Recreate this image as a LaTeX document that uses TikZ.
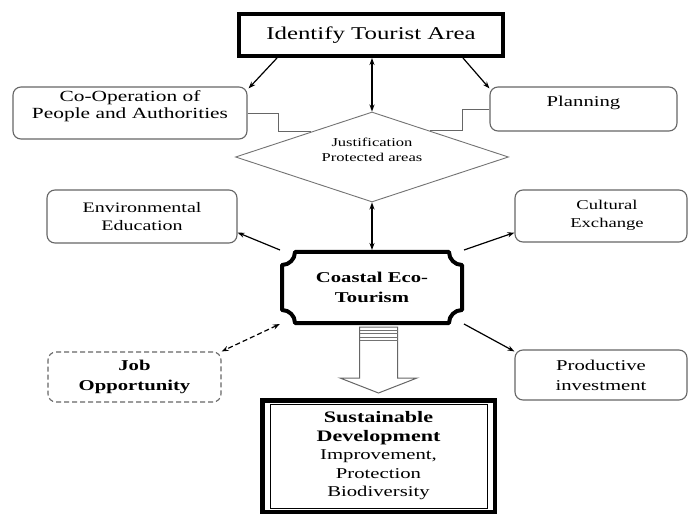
\documentclass[tikz,border=0pt]{standalone}
\usepackage{fontspec}
\setmainfont{Liberation Serif}[FakeStretch=1.38]
\usetikzlibrary{shapes.geometric,arrows.meta,calc}
\newcommand\setfs[2]{\fontsize{#1}{#2}\selectfont}
\begin{document}
\begin{tikzpicture}[x=1pt,y=-1pt,
  rbox/.style={draw=black!60, line width=1.1pt, rounded corners=8pt, inner sep=2pt, align=center, font=\setfs{15}{17}},
  txt/.style={align=center, inner sep=0pt},
  arr/.style={line width=1.2pt, -{Stealth[length=7pt,width=5pt]}},
  arrb/.style={line width=1.2pt, {Stealth[length=7pt,width=5pt]}-{Stealth[length=7pt,width=5pt]}},
  elbow/.style={draw=black!60, line width=0.9pt},
  grayline/.style={draw=black!55, line width=0.9pt}
]
\useasboundingbox (0,0) rectangle (689,516);
\fill[white] (0,0) rectangle (689,516);

% top box
\node[draw, line width=4pt, minimum width=264, minimum height=42, inner sep=0pt, font=\setfs{18}{20}] (top) at (371,35) {Identify Tourist Area};
\draw[line width=3pt] ($(top.north west)+(1.5,0)$) -- ($(top.south west)+(1.5,0)$);
\draw[line width=1.5pt] ($(top.south west)+(0,-0.75)$) -- ($(top.south east)+(0,-0.75)$);

% side boxes
\node[rbox, minimum width=234, minimum height=52] (coop) at (130,113) {};
\node[txt, font=\setfs{15.5}{17.5}] (coopt) at (130,106) {Co-Operation of\\People and Authorities};
\node[rbox, minimum width=187, minimum height=44] (plan) at (583.5,109) {};
\node[txt, font=\setfs{15}{17}] (plant) at (583.5,103) {Planning};

% diamond
\node[diamond, grayline, aspect=3, minimum width=273, minimum height=90, inner sep=0pt] (dia) at (372,157) {};
\node[txt, font=\setfs{12}{15}] (diat) at (372,150) {Justification\\Protected areas};

\node[rbox, minimum width=190, minimum height=53, font=\setfs{14.5}{18}] (env) at (142,216.5) {Environmental\\Education};
\node[rbox, minimum width=172, minimum height=52] (cult) at (601,216) {};
\node[txt, font=\setfs{13.5}{18}] (cultt) at (607,215) {Cultural\\Exchange};

% coastal eco-tourism plaque
\node[minimum width=180, minimum height=71, inner sep=0pt, outer sep=2pt, align=center, font=\bfseries\setfs{15}{20}] (coastal) at (372,287.5) {Coastal Eco-\\Tourism};
\draw[line width=4pt, line join=round]
 (295,252) -- (449,252)
 .. controls (449,259.2) and (454.8,265) .. (462,265)
 -- (462,310)
 .. controls (454.8,310) and (449,315.8) .. (449,323)
 -- (295,323)
 .. controls (295,315.8) and (289.2,310) .. (282,310)
 -- (282,265)
 .. controls (289.2,265) and (295,259.2) .. (295,252) -- cycle;

\node[rbox, dashed, dash pattern=on 5pt off 3pt, minimum width=173, minimum height=50, font=\bfseries\setfs{15}{20}] (job) at (134.5,377) {Job\\Opportunity};
\node[rbox, minimum width=172, minimum height=50, font=\setfs{15}{20}] (prod) at (601,375) {Productive\\investment};

% sustainable development
\node[draw, line width=4.5pt, minimum width=232.5, minimum height=111.5, inner sep=0pt, align=center, font=\setfs{15}{18.5}] (sust) at (378.5,456)
  {\textbf{\setfs{16}{18.5}Sustainable}\\\textbf{\setfs{16}{18.5}Development}\\Improvement,\\Protection\\Biodiversity};
\draw[line width=0.8pt] ($(sust.north west)+(10,6)$) rectangle ($(sust.south east)+(-10,-6)$);

% connectors from top
\draw[arr] ($(top.south west)+(40,0)$) -- ($(coop.north east)+(1,2)$);
\draw[arrb] (top.south -| dia.north) -- (dia.north);
\draw[arr] ($(top.south east)+(-42,0)$) -- ($(plan.north west)+(0,2)$);

% elbows into diamond
\draw[elbow] (coop.east) -- ++(31,0) |- ($(dia.west)!0.555!(dia.north)$);
\draw[elbow] (plan.west) -- ++(-27,0) |- ($(dia.east)!0.578!(dia.north)$);

% connectors from coastal
\draw[arrb] (coastal.north) -- (dia.south);
\draw[arr] (coastal.north west) -- ($(env.south east)+(0,-11)$);
\draw[arr] (coastal.north east) -- ($(cult.south west)+(0,-10)$);
\draw[arrb, dashed, dash pattern=on 5pt off 3pt] ($(coastal.south west)+(0,-1)$) -- (job.north east);
\draw[arr] ($(coastal.south east)+(0,-1)$) -- ($(prod.north west)+(0,2)$);

% block arrow
\coordinate (btip) at ($(sust.north)+(0,-5)$);
\draw[black!60, line width=1pt, fill=white, line join=miter]
  ($(btip)+(-19,-66)$) -- ($(btip)+(-19,-15)$) -- ($(btip)+(-38.5,-15)$) -- (btip)
  -- ($(btip)+(38.5,-15)$) -- ($(btip)+(19,-15)$) -- ($(btip)+(19,-66)$) -- cycle;
\foreach \d in {-63,-59.5,-56,-52.5}
  \draw[black!55, line width=0.9pt] ($(btip)+(-19,\d)$) -- ($(btip)+(19,\d)$);
\end{tikzpicture}
\end{document}
